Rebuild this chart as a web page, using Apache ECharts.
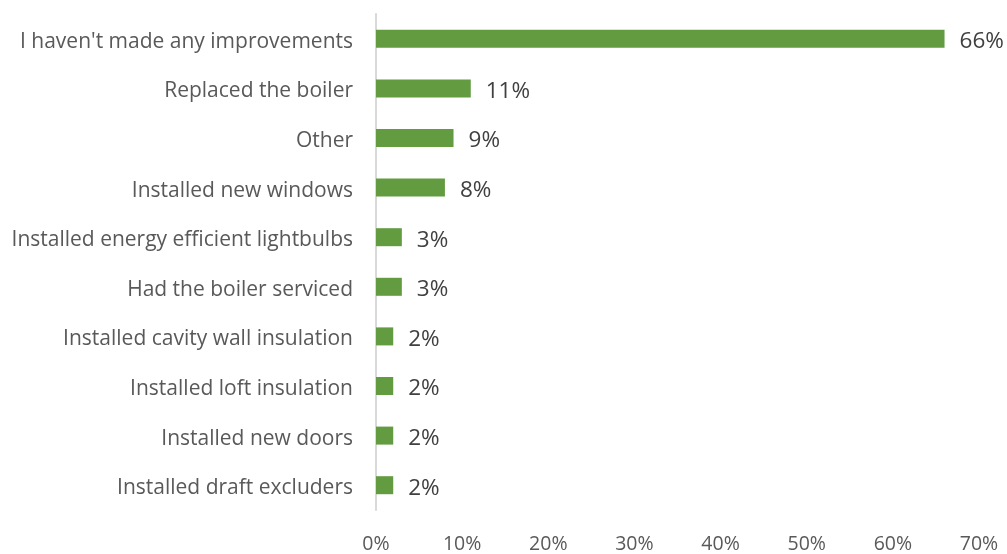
<!DOCTYPE html>
<html>
<head>
<meta charset="utf-8">
<script src="https://cdn.jsdelivr.net/npm/echarts@6/dist/echarts.min.js"></script>
<style>html,body{margin:0;padding:0;background:#fff}#c{width:1007px;height:554px}</style>
</head>
<body>
<div id="c"></div>
<script>
const categories = [
  "I haven't made any improvements",
  "Replaced the boiler",
  "Other",
  "Installed new windows",
  "Installed energy efficient lightbulbs",
  "Had the boiler serviced",
  "Installed cavity wall insulation",
  "Installed loft insulation",
  "Installed new doors",
  "Installed draft excluders"
];
const values = [66, 11, 9, 8, 3, 3, 2, 2, 2, 2];
const xTicks = [0, 10, 20, 30, 40, 50, 60, 70];

const chart = echarts.init(document.getElementById('c'), null, {renderer: 'canvas'});
chart.setOption({
  animation: false,
  grid: {left: 376, right: 28, top: 14, bottom: 41, containLabel: false},
  xAxis: {
    type: 'value', min: xTicks[0], max: xTicks[xTicks.length - 1], interval: 10,
    splitLine: {show: false},
    axisLine: {show: false}, axisTick: {show: false},
    axisLabel: {formatter: v => v + '%', color: '#595959', fontSize: 19.5, fontFamily: 'Open Sans, sans-serif', margin: 24}
  },
  yAxis: {
    type: 'category', data: categories, inverse: true,
    axisLine: {show: true, lineStyle: {color: '#d9d9d9', width: 2}},
    axisTick: {show: false},
    axisLabel: {
      formatter: v => '{a|' + v + '}',
      margin: 23,
      rich: {a: {color: '#595959', fontSize: 21, fontFamily: 'Open Sans, sans-serif', padding: [6, 0, 0, 0]}}
    }
  },
  series: [{
    type: 'bar', data: values, barWidth: 18,
    itemStyle: {color: '#629b40'},
    label: {show: true, position: 'right', distance: 15, offset: [0, 3], formatter: p => p.value + '%', color: '#404040', fontSize: 22.5, fontFamily: 'Open Sans, sans-serif'}
  }]
});
</script>
</body>
</html>
